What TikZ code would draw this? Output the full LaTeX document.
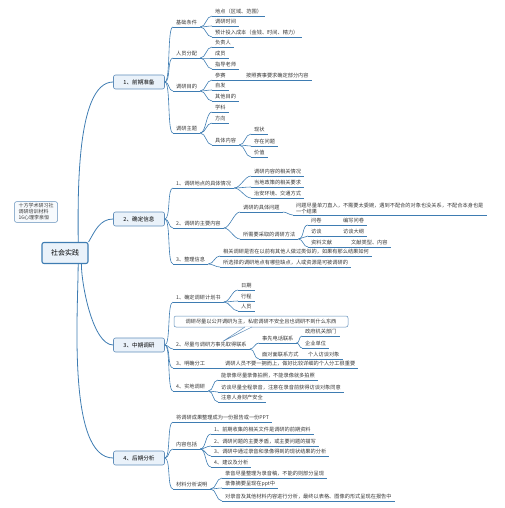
\documentclass[tikz,border=0pt]{standalone}
\usepackage{fontspec}
\setmainfont{Noto Sans CJK SC}
\usetikzlibrary{calc}
\definecolor{linkblue}{RGB}{62,124,178}
\definecolor{boxline}{RGB}{96,142,186}
\definecolor{boxfill}{RGB}{234,242,250}
\definecolor{textgray}{RGB}{55,55,55}
\tikzset{
    link/.style={draw=linkblue, line width=0.6pt},
    trunk/.style={draw=linkblue, line width=0.8pt},
    fork/.style={out=0, in=180, max distance=6pt},
    leaf/.style={
        anchor=south west,
        inner xsep=3pt,
        inner ysep=1pt,
        font=\fontsize{5.2}{6.2}\selectfont,
        text=textgray,
    },
    topic/.style={
        leaf,
        text height=4.3pt,
        text depth=1pt,
    },
    section/.style={
        draw=boxline,
        fill=boxfill,
        rounded corners=2pt,
        line width=0.6pt,
        minimum width=51pt,
        minimum height=14pt,
        inner sep=1pt,
        font=\fontsize{5.6}{6.6}\selectfont,
    },
    central/.style={
        section,
        draw=linkblue,
        line width=1.1pt,
        minimum width=46pt,
        minimum height=21pt,
        font=\fontsize{7}{8}\selectfont,
    },
    memo/.style={
        draw=boxline,
        fill=boxfill!40,
        rounded corners=2pt,
        line width=0.5pt,
        align=left,
        inner xsep=4pt,
        inner ysep=2pt,
        font=\fontsize{5}{6}\selectfont,
        text=textgray,
    },
    callout/.style={
        draw=boxline,
        fill=white,
        rounded corners=2pt,
        line width=0.5pt,
        minimum width=174pt,
        minimum height=11pt,
        inner sep=1pt,
        font=\fontsize{5.2}{6.2}\selectfont,
        text=textgray,
    },
}
\begin{document}
\begin{tikzpicture}[x=1pt, y=-1pt]
    \useasboundingbox (0,0) rectangle (505,508);

    \node[central] (root) at (65,253) {社会实践};
    \node[memo] (memo) at (36,212) {十方学术研习社\\调研培训材料\\16心理李泉恒};

    \node[section] (prep) at (139,82) {1、前期准备};
    \node[section] (info) at (139,219) {2、确定信息};
    \node[section] (mid) at (139,345) {3、中期调研};
    \node[section] (post) at (139,458) {4、后期分析};

    \node[topic] (base) at (173,27) {基础条件};
    \node[topic] (site) at (212,16) {地点（区域、范围）};
    \node[topic] (time) at (212,26) {调研时间};
    \node[topic] (cost) at (212,37) {预计投入成本（金钱、时间、精力）};
    \node[topic] (staff) at (173,58) {人员分配};
    \node[topic] (lead) at (212,47) {负责人};
    \node[topic] (memb) at (212,58) {成员};
    \node[topic] (tutor) at (212,69) {指导老师};
    \node[topic] (aim) at (173,91) {调研目的};
    \node[topic] (contest) at (212,80) {参赛};
    \node[topic] (rule) at (243,80) {按照赛事要求确定部分内容};
    \node[topic] (self) at (212,90) {自发};
    \node[topic] (other) at (212,101) {其他目的};
    \node[topic] (theme) at (173,133) {调研主题};
    \node[topic] (subj) at (212,112) {学科};
    \node[topic] (dir) at (212,123) {方向};
    \node[topic] (detail) at (212,145) {具体内容};
    \node[topic] (now) at (251,134) {现状};
    \node[topic] (issue) at (251,146) {存在问题};
    \node[topic] (value) at (251,157) {价值};

    \node[topic] (place) at (173,188) {1、调研地点的具体情况};
    \node[topic] (place1) at (251,176) {调研内容的相关情况};
    \node[topic] (place2) at (251,187) {当地政策的相关要求};
    \node[topic] (place3) at (251,198) {治安环境、交通方式};
    \node[topic] (cont) at (173,228) {2、调研的主要内容};
    \node[topic] (quest) at (240,212) {调研的具体问题};
    \node[leaf, align=left] (qnote) at (293,215) {问题尽量单刀直入，不需要太委婉，遇到不配合的对象也没关系，不配合本身也是\\一个结果};
    \node[topic] (method) at (240,239) {所需要采取的调研方法};
    \node[topic] (m1) at (308,225) {问卷};
    \node[topic] (m1a) at (340,225) {编写问卷};
    \node[topic] (m2) at (308,236) {访谈};
    \node[topic] (m2a) at (340,236) {访谈大纲};
    \node[topic] (m3) at (308,247) {资料文献};
    \node[topic] (m3a) at (348,247) {文献类型、内容};
    \node[topic] (sort) at (173,264) {3、整理信息};
    \node[topic] (sort1) at (220,256) {相关调研是否在以前有其他人做过类似的，如果有那么结果如何};
    \node[topic] (sort2) at (220,267) {所选择的调研地点有哪些缺点，人或资源是可被调研的};

    \node[topic] (plan) at (173,302) {1、确定调研计划书};
    \node[topic] (date) at (238,290) {日期};
    \node[topic] (trip) at (238,301) {行程};
    \node[topic] (crew) at (238,311) {人员};
    \node[callout] (tip) at (261,321.5) {调研尽量以公开调研为主，私密调研不安全且也调研不到什么东西};
    \node[topic] (contact) at (173,349) {2、尽量与调研方事先取得联系};
    \node[topic] (phone) at (259,343) {事先电话联系};
    \node[topic] (gov) at (302,336) {政府机关部门};
    \node[topic] (firm) at (302,348) {企业单位};
    \node[topic] (face) at (259,359) {面对面联系方式};
    \node[topic] (person) at (305,359) {个人访谈对象};
    \node[topic] (duty) at (173,368) {3、明确分工};
    \node[topic] (duty1) at (222,368) {调研人员不要一拥而上，做好比较详细的个人分工很重要};
    \node[topic] (field) at (173,391) {4、实地调研};
    \node[topic] (field1) at (218,380) {能录像尽量录像拍照，不能录像就多拍照};
    \node[topic] (field2) at (218,392) {访谈尽量全程录音，注意在录音前获得访谈对象同意};
    \node[topic] (field3) at (218,402) {注意人身财产安全};

    \node[topic] (report) at (173,422) {将调研成果整理成为一份报告或一份PPT};
    \node[topic] (incl) at (173,449) {内容包括};
    \node[topic] (incl1) at (211,434) {1、前期收集的相关文件是调研的前期资料};
    \node[topic] (incl2) at (211,446) {2、调研问题的主要矛盾，或主要问题的描写};
    \node[topic] (incl3) at (211,456) {3、调研中通过录音和录像得到的现状结果的分析};
    \node[topic] (incl4) at (211,467) {4、建议及分析};
    \node[topic] (mat) at (173,489) {材料分析说明};
    \node[topic] (mat1) at (222,478) {录音尽量整理为录音稿，不能的则部分呈现};
    \node[topic] (mat2) at (222,488) {录像摘要呈现在ppt中};
    \node[topic] (mat3) at (222,501) {对录音及其他材料内容进行分析，最终以表格、图像的形式呈现在报告中};

    \foreach \n in {base,site,time,cost,staff,lead,memb,tutor,aim,contest,rule,self,other,
        theme,subj,dir,detail,now,issue,value,place,place1,place2,place3,cont,quest,qnote,
        method,m1,m1a,m2,m2a,m3,m3a,sort,sort1,sort2,plan,date,trip,crew,contact,phone,gov,
        firm,face,person,duty,duty1,field,field1,field2,field3,report,incl,incl1,incl2,
        incl3,incl4,mat,mat1,mat2,mat3}
        \draw[link] (\n.south west) -- (\n.south east);

    \draw[trunk] (root.40) to[out=90, in=180, looseness=0.6] (prep.west);
    \draw[trunk] (root.25) to[out=60, in=180] (info.west);
    \draw[trunk] (root.-34) to[out=-90, in=180, looseness=0.6] (mid.west);
    \draw[trunk] (root.-40) to[out=-90, in=180, looseness=0.6] (post.west);

    \foreach \c in {base,staff,aim,theme}
        \draw[link] (prep.east) to[fork] (\c.south west);
    \foreach \c in {site,time,cost}
        \draw[link] (base.south east) to[fork] (\c.south west);
    \foreach \c in {lead,memb,tutor}
        \draw[link] (staff.south east) to[fork] (\c.south west);
    \foreach \c in {contest,self,other}
        \draw[link] (aim.south east) to[fork] (\c.south west);
    \draw[link] (contest.south east) -- (rule.south west);
    \foreach \c in {subj,dir,detail}
        \draw[link] (theme.south east) to[fork] (\c.south west);
    \foreach \c in {now,issue,value}
        \draw[link] (detail.south east) to[fork] (\c.south west);

    \foreach \c in {place,cont,sort}
        \draw[link] (info.east) to[fork] (\c.south west);
    \foreach \c in {place1,place2,place3}
        \draw[link] (place.south east) to[fork] (\c.south west);
    \foreach \c in {quest,method}
        \draw[link] (cont.south east) to[fork] (\c.south west);
    \draw[link] (quest.south east) to[fork] (qnote.south west);
    \foreach \c in {m1,m2,m3}
        \draw[link] (method.south east) to[fork] (\c.south west);
    \draw[link] (m1.south east) -- (m1a.south west);
    \draw[link] (m2.south east) -- (m2a.south west);
    \draw[link] (m3.south east) -- (m3a.south west);
    \foreach \c in {sort1,sort2}
        \draw[link] (sort.south east) to[fork] (\c.south west);

    \foreach \c in {plan,contact,duty,field}
        \draw[link] (mid.east) to[fork] (\c.south west);
    \foreach \c in {date,trip,crew}
        \draw[link] (plan.south east) to[fork] (\c.south west);
    \draw[draw=boxline, fill=white, line width=0.5pt] ($(tip.south)+(-16,-0.3)$)
        -- ($(contact.north)!0.3!(contact.north east)$) -- ($(tip.south)+(-9,-0.3)$);
    \foreach \c in {phone,face}
        \draw[link] (contact.south east) to[fork] (\c.south west);
    \foreach \c in {gov,firm}
        \draw[link] (phone.south east) to[fork] (\c.south west);
    \draw[link] (face.south east) -- (person.south west);
    \draw[link] (duty.south east) -- (duty1.south west);
    \foreach \c in {field1,field2,field3}
        \draw[link] (field.south east) to[fork] (\c.south west);

    \foreach \c in {report,incl,mat}
        \draw[link] (post.east) to[fork] (\c.south west);
    \foreach \c in {incl1,incl2,incl3,incl4}
        \draw[link] (incl.south east) to[fork] (\c.south west);
    \foreach \c in {mat1,mat2,mat3}
        \draw[link] (mat.south east) to[fork] (\c.south west);
\end{tikzpicture}
\end{document}
